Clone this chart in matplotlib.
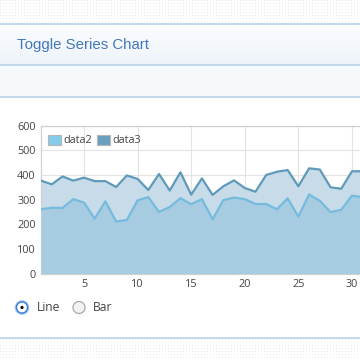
import numpy as np
import matplotlib
matplotlib.use('Agg')
import matplotlib.pyplot as plt
from matplotlib.patches import Circle, Rectangle, Patch

# ---- data ----
x = list(range(1, 32))
data2 = [261, 267, 266, 302, 288, 223, 293, 211, 217, 297,
         310, 250, 270, 306, 281, 302, 220, 298, 308, 302,
         282, 282, 261, 305, 231, 321, 295, 249, 259, 316, 310]
data3 = [377, 362, 394, 377, 389, 375, 375, 351, 398, 384,
         339, 404, 337, 411, 320, 386, 319, 354, 378, 347,
         332, 400, 413, 420, 354, 427, 422, 350, 344, 415, 415]
yticks = [0, 100, 200, 300, 400, 500, 600]
xticks = [5, 10, 15, 20, 25, 30]
series_labels = ['data2', 'data3']
title = 'Toggle Series Chart'
radio_labels = ['Line', 'Bar']

W = H = 360
fig = plt.figure(figsize=(3.6, 3.6), dpi=100)
fig.patch.set_facecolor('white')

# ---- page background (pixel coordinates) ----
bg = fig.add_axes([0, 0, 1, 1], zorder=-1)
bg.set_xlim(0, W)
bg.set_ylim(H, 0)
bg.axis('off')

img = np.ones((H, W, 3))
yy, xx = np.mgrid[0:H, 0:W]
dots = (yy % 3 == 0) & (xx % 3 == 0) & ((yy < 24) | (yy > 338))
img[dots] = np.array([0.92, 0.92, 0.92])
# header gradient
for r in range(24, 65):
    t = (r - 24) / 41.0
    c0 = np.array([0.985, 0.99, 1.0])
    c1 = np.array([0.93, 0.955, 0.98])
    img[r, :] = c0 * (1 - t) + c1 * t
img[65:97, :] = np.array([0.968, 0.98, 0.992])
bg.imshow(img, extent=(0, W, H, 0), interpolation='nearest', aspect='auto')
line_c = '#bcd6ea'
for yl in (24, 65, 96.5, 338):
    bg.plot([0, W], [yl, yl], color=line_c, lw=1.3, solid_capstyle='butt')

bg.text(17, 45, title, fontsize=10.8, color='#4379b9',
        family='Liberation Sans', va='center', ha='left')

# radio buttons
bg.add_patch(Circle((22, 307.5), 7.5, color='#a9cdf2', alpha=0.8, lw=0))
bg.add_patch(Circle((22, 307.5), 5.6, facecolor='white', edgecolor='#3f7fd6', lw=1.1))
bg.add_patch(Circle((22, 307.5), 1.6, color='#111111', lw=0))
bg.text(37, 307.5, radio_labels[0], fontsize=8.7, color='#444444',
        family='Open Sans', va='center', ha='left')
bg.add_patch(Circle((79, 307.5), 6.0, facecolor='#f3f3f3', edgecolor='#a9a9a9', lw=0.9))
bg.text(93, 307.5, radio_labels[1], fontsize=8.7, color='#444444',
        family='Open Sans', va='center', ha='left')

# ---- chart ----
left_px, top_px, bottom_px = 41.1, 125.7, 273.5
px_per_unit = 10.72
ax = fig.add_axes([left_px / W, 1 - bottom_px / H, (W - left_px) / W,
                   (bottom_px - top_px) / H])
ax.set_facecolor('white')
ax.set_xlim(1, 1 + (W - left_px) / px_per_unit)
ax.set_ylim(0, 600)

ax.fill_between(x, 0, data3, color='#c7dce8', lw=0, zorder=2)
ax.fill_between(x, 0, data2, color='#a7cce2', lw=0, zorder=3)
ax.plot(x, data3, color='#5f9aba', lw=1.6, zorder=4)
ax.plot(x, data2, color='#74bbdd', lw=1.6, zorder=5)

ax.set_yticks(yticks)
ax.set_xticks(xticks)
ax.grid(True, color='#e3e3e3', lw=0.8, zorder=1)
ax.set_axisbelow(True)
ax.spines['right'].set_visible(False)
for s in ('left', 'bottom', 'top'):
    ax.spines[s].set_color('#d0d0d0')
    ax.spines[s].set_linewidth(0.9)
ax.tick_params(length=0, labelsize=7.8, labelcolor='#444444', pad=4)
for lab in ax.get_xticklabels() + ax.get_yticklabels():
    lab.set_family('Open Sans')

handles = [Patch(facecolor='#84ccec', edgecolor='#b5b5b5', lw=0.8),
           Patch(facecolor='#6aa0bf', edgecolor='#b5b5b5', lw=0.8)]
leg = ax.legend(handles, series_labels, loc='upper left',
                bbox_to_anchor=(47.5 / W, 1 - 134.5 / H),
                bbox_transform=fig.transFigure, ncol=2, frameon=False,
                borderpad=0, borderaxespad=0, handlelength=1.2,
                handleheight=1.05, handletextpad=0.25, columnspacing=0.45,
                prop={'family': 'Open Sans', 'size': 7.8})
for t in leg.get_texts():
    t.set_color('#444444')

fig.savefig('out.png', dpi=100)
